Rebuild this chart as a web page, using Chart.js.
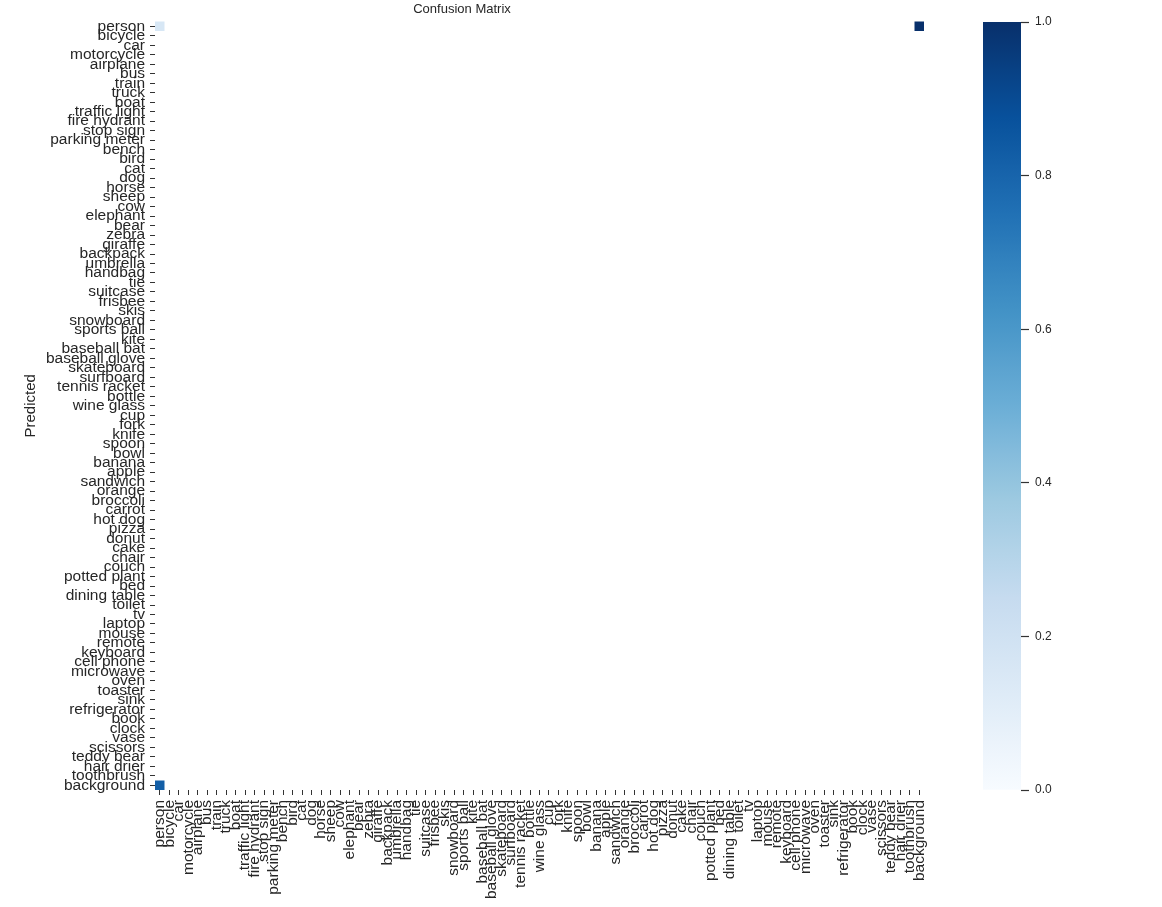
<!DOCTYPE html>
<html>
<head>
<meta charset="utf-8">
<script src="https://cdn.jsdelivr.net/npm/chart.js@4/dist/chart.umd.min.js"></script>
<style>
  html, body { margin: 0; padding: 0; background: #fff; }
  #wrap { position: relative; width: 1162px; height: 907px; }
  #matrix { position: absolute; left: 0; top: 0; }
  #cbar { position: absolute; left: 960px; top: 0; }
</style>
</head>
<body>
<div id="wrap">
  <canvas id="matrix" width="1079" height="907"></canvas>
  <canvas id="cbar" width="202" height="907"></canvas>
</div>
<script>
// class names (rows = predicted, columns = true)
var classes = [
  "person", "bicycle", "car", "motorcycle", "airplane", "bus", "train", "truck", "boat",
  "traffic light", "fire hydrant", "stop sign", "parking meter", "bench", "bird", "cat",
  "dog", "horse", "sheep", "cow", "elephant", "bear", "zebra", "giraffe", "backpack",
  "umbrella", "handbag", "tie", "suitcase", "frisbee", "skis", "snowboard", "sports ball",
  "kite", "baseball bat", "baseball glove", "skateboard", "surfboard", "tennis racket",
  "bottle", "wine glass", "cup", "fork", "knife", "spoon", "bowl", "banana", "apple",
  "sandwich", "orange", "broccoli", "carrot", "hot dog", "pizza", "donut", "cake", "chair",
  "couch", "potted plant", "bed", "dining table", "toilet", "tv", "laptop", "mouse",
  "remote", "keyboard", "cell phone", "microwave", "oven", "toaster", "sink",
  "refrigerator", "book", "clock", "vase", "scissors", "teddy bear", "hair drier",
  "toothbrush", "background"
];

// non-zero cells only (zeros are left blank)
var cellTrue = ["person", "person", "background"];
var cellPred = ["person", "background", "person"];
var cellValue = [0.16, 0.82, 1.0];

// colour bar ticks
var barTicks = [0.0, 0.2, 0.4, 0.6, 0.8, 1.0];

// matplotlib "Blues"
var blues = ["#f7fbff", "#deebf7", "#c6dbef", "#9ecae1", "#6baed6", "#4292c6", "#2171b5", "#08519c", "#08306b"];

function hexRgb(h) {
  return [parseInt(h.substr(1, 2), 16), parseInt(h.substr(3, 2), 16), parseInt(h.substr(5, 2), 16)];
}
function bluesColor(v) {
  v = Math.max(0, Math.min(1, v));
  var p = v * (blues.length - 1);
  var i = Math.min(Math.floor(p), blues.length - 2);
  var f = p - i;
  var a = hexRgb(blues[i]), b = hexRgb(blues[i + 1]);
  var c = a.map(function (x, k) { return Math.round(x + (b[k] - x) * f); });
  return "rgb(" + c.join(",") + ")";
}

var FONT = "'Liberation Sans', Arial, sans-serif";
var TXT = "#262626";

var points = cellValue.map(function (v, i) {
  return { x: cellTrue[i], y: cellPred[i], v: v };
});

function cellRadius(ctx) {
  var xs = ctx.chart.scales.x;
  if (!xs) return 4;
  var w = Math.abs(xs.getPixelForValue(1) - xs.getPixelForValue(0));
  return w / Math.SQRT2;
}

new Chart(document.getElementById("matrix"), {
  type: "scatter",
  data: {
    datasets: [{
      data: points,
      pointStyle: "rect",
      pointRadius: cellRadius,
      pointHoverRadius: cellRadius,
      pointBorderWidth: 0,
      pointBackgroundColor: function (ctx) {
        var d = ctx.raw;
        return d ? bluesColor(d.v) : "#fff";
      },
    }],
  },
  options: {
    responsive: false,
    animation: false,
    events: [],
    layout: { padding: { left: 0, right: 155, top: 0, bottom: 0 } },
    plugins: {
      legend: { display: false },
      tooltip: { enabled: false },
      title: {
        display: true,
        text: "Confusion Matrix",
        color: TXT,
        font: { family: FONT, size: 13, weight: "normal" },
        padding: { top: 2, bottom: 4 },
      },
    },
    scales: {
      x: {
        type: "category",
        labels: classes,
        offset: true,
        border: { display: false },
        grid: { drawOnChartArea: false, drawTicks: true, tickLength: 5, tickColor: "#333", tickWidth: 1 },
        ticks: {
          autoSkip: false, maxRotation: 90, minRotation: 90, padding: 5,
          color: TXT, font: { family: FONT, size: 15.5 },
        },
        afterFit: function (s) { s.height = 117; },
      },
      y: {
        type: "category",
        labels: classes,
        offset: true,
        border: { display: false },
        grid: { drawOnChartArea: false, drawTicks: true, tickLength: 5, tickColor: "#333", tickWidth: 1 },
        ticks: {
          autoSkip: false, padding: 5,
          color: TXT, font: { family: FONT, size: 15.5 },
        },
        title: {
          display: true,
          text: "Predicted",
          color: TXT,
          font: { family: FONT, size: 15 },
          padding: { top: 22, bottom: 0 },
        },
        afterFit: function (s) { s.width = 155; },
      },
    },
  },
});

// colour bar
new Chart(document.getElementById("cbar"), {
  type: "bar",
  data: {
    labels: [""],
    datasets: [{
      data: [[barTicks[0], barTicks[barTicks.length - 1]]],
      barPercentage: 1,
      categoryPercentage: 1,
      borderWidth: 0,
      backgroundColor: function (ctx) {
        var area = ctx.chart.chartArea;
        if (!area) return blues[4];
        var g = ctx.chart.ctx.createLinearGradient(0, area.bottom, 0, area.top);
        for (var i = 0; i <= 32; i++) g.addColorStop(i / 32, bluesColor(i / 32));
        return g;
      },
    }],
  },
  options: {
    responsive: false,
    animation: false,
    events: [],
    layout: { padding: { left: 23, right: 0, top: 22, bottom: 117 } },
    plugins: { legend: { display: false }, tooltip: { enabled: false } },
    scales: {
      x: { display: false },
      y: {
        position: "right",
        min: 0, max: 1,
        border: { display: false },
        grid: { drawOnChartArea: false, drawTicks: true, tickLength: 8, tickColor: "#333", tickWidth: 1.2 },
        afterBuildTicks: function (s) { s.ticks = barTicks.map(function (v) { return { value: v }; }); },
        ticks: {
          padding: 6, color: TXT, font: { family: FONT, size: 12 },
          callback: function (v) { return Number(v).toFixed(1); },
        },
        afterFit: function (s) { s.width = 141; },
      },
    },
  },
});
</script>
</body>
</html>
